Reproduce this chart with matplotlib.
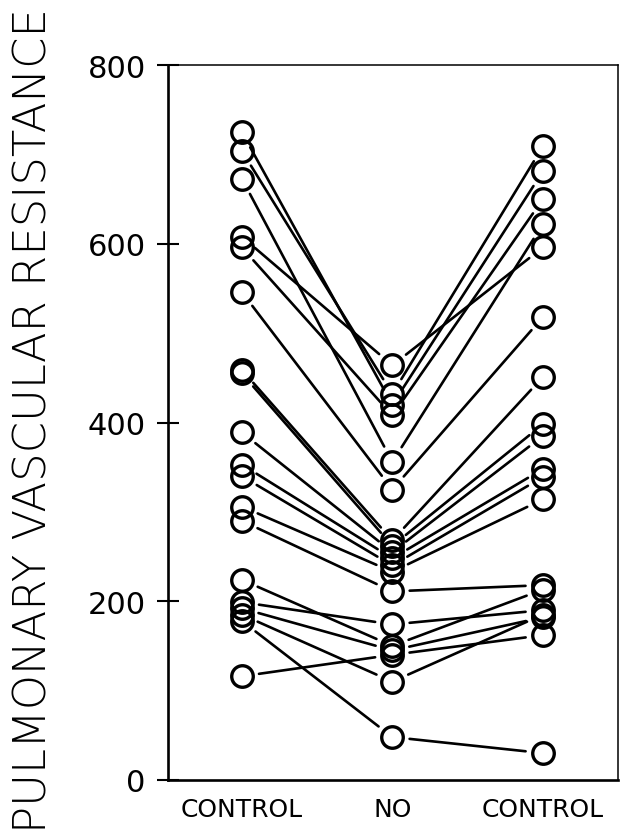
import matplotlib
matplotlib.use("Agg")
import matplotlib.pyplot as plt

# one value per subject, same order in each list
CONDITIONS = ["CONTROL", "NO", "CONTROL"]
CONTROL_1 = [725, 704, 673, 608, 596, 546, 459, 455, 389, 353, 340, 306, 290,
             224, 199, 192, 185, 178, 116]
NO_GAS = [420, 432, 356, 464, 408, 325, 268, 262, 255, 248, 240, 233, 211,
          150, 174, 145, 110, 48, 140]
CONTROL_2 = [681, 709, 622, 596, 650, 518, 451, 398, 385, 348, 339, 314, 218,
             213, 190, 182, 185, 30, 162]
Y_TICKS = [0, 200, 400, 600, 800]

fig = plt.figure(figsize=(6.2, 8.37), dpi=100)
ax = fig.add_axes([0.271, 0.067, 0.726, 0.854])

series = [CONTROL_1, NO_GAS, CONTROL_2]
for i in range(len(series) - 1):
    for a, b in zip(series[i], series[i + 1]):
        ax.annotate("", xy=(i + 1, b), xytext=(i, a),
                    arrowprops=dict(arrowstyle="-", color="black", lw=1.9,
                                    shrinkA=12.5, shrinkB=12.5))

for i, vals in enumerate(series):
    ax.plot([i] * len(vals), vals, linestyle="none", marker="o",
            markersize=15.5, markerfacecolor="none", markeredgecolor="black",
            markeredgewidth=2.4, zorder=3)

ax.set_xlim(-0.49, 2.5)
ax.set_ylim(0, 800)
ax.set_yticks(Y_TICKS)
ax.set_xticks(range(len(CONDITIONS)))
ax.set_xticklabels(CONDITIONS, fontsize=18)
ax.tick_params(axis="x", length=0, pad=12)
ax.tick_params(axis="y", direction="inout", length=16, width=1.5,
               labelsize=22, pad=8)

for s in ("left", "bottom"):
    ax.spines[s].set_linewidth(1.9)
for s in ("top", "right"):
    ax.spines[s].set_linewidth(1.1)

fig.text(0.055, 0.498, "PULMONARY VASCULAR RESISTANCE", rotation=90,
         ha="center", va="center", fontsize=32.3, fontweight="light",
         family=["Liberation Sans Narrow", "DejaVu Sans"])

fig.savefig("out.png", dpi=100)
